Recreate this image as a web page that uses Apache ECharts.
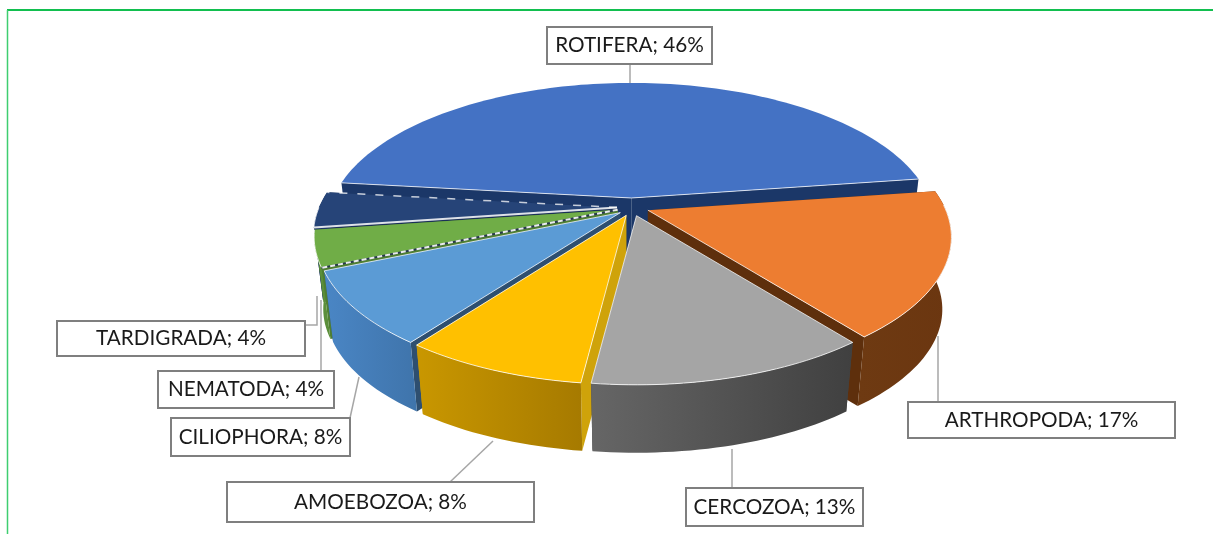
<!DOCTYPE html>
<html><head><meta charset="utf-8">
<style>html,body{margin:0;padding:0;background:#fff}#c{width:1213px;height:534px}</style>
<script src="https://cdn.jsdelivr.net/npm/echarts@6/dist/echarts.min.js"></script>
</head><body><div id="c"></div>
<script>
const categories = ['ROTIFERA','ARTHROPODA','CERCOZOA','AMOEBOZOA','CILIOPHORA','NEMATODA','TARDIGRADA'];
const shares = [46,17,13,8,8,4,4];
const topColors = ['#4472C4','#ED7D31','#A5A5A5','#FFC000','#5B9BD5','#70AD47','#264478'];
const faceColors = ['#1B3768','#5E2F0C','#444444','#CFA30A','#2E4F70','#4F7F32','#1A3058'];
const wallLeft = ['#2F5597','#6E3A12','#666666','#C99700','#4A86C5','#5B8F3A','#1F3864'];
const wallRight = ['#2F5597','#6B3610','#404040','#A67A00','#3F74AB','#5B8F3A','#1F3864'];
const drawOrder = [0,6,5,4,3,1,2];
const labelBoxes = [[547,27,165,37],[908,402,267,36],[686,488,177,38],[227,482,307,40],[171,418,179,38],[158,371,176,37],[57,321,248,35]];
const leaders = [
  [[630,64],[630,83]],
  [[938,336],[938,402]],
  [[732,449],[732,488]],
  [[493,441],[450,482]],
  [[359,377],[350,418]],
  [[321,300],[321,371]],
  [[305,325],[317,325],[317,296]]
];

const CX=632, CY=207, RX=298, RY=137, K=0.19, DEPTH=73, BOTTOM=0.97, START=-85.5;
const rad=d=>d*Math.PI/180;
const total=shares.reduce((a,b)=>a+b,0);
const spans=[]; let acc=START;
shares.forEach(s=>{const e=acc+s/total*360; spans.push([acc,e]); acc=e;});
function warp(t){return t+0.5-1.5*Math.cos(rad(2*(t-188)));}
function pt(t,o,dz){
  const a=rad(warp(t)), u=Math.sin(a), v=Math.cos(a), k=dz?BOTTOM:1, w=1+K*v;
  return [CX+o[0]+RX*k*u/w, CY+o[1]-RY*k*v/w+dz];
}
function arc(a,b,o,dz){const n=Math.max(6,Math.ceil(Math.abs(b-a)/1.5)),r=[];for(let i=0;i<=n;i++)r.push(pt(a+(b-a)*i/n,o,dz));return r;}

function renderSlice(params,api){
  const i=api.value(0), [a,b]=spans[i], mid=rad((a+b)/2), sm=Math.sin(mid);
  const o=[(sm>0?17:15)*sm,-9*Math.cos(mid)];
  const apex=[CX+o[0],CY+o[1]], apexB=[apex[0],apex[1]+DEPTH];
  const top=arc(a,b,o,0), bot=arc(a,b,o,DEPTH);
  const first=top[0], last=top[top.length-1];
  const kids=[];
  const poly=(points,fill)=>kids.push({type:'polygon',shape:{points},style:{fill}});
  const edge=(p,q,stroke,lineWidth,lineDash)=>kids.push({type:'polyline',shape:{points:[p,q]},style:{fill:'none',stroke,lineWidth,lineDash:lineDash||null}});
  poly([apex,first,bot[0],apexB],faceColors[i]);
  poly([apex,last,bot[bot.length-1],apexB],faceColors[i]);
  if(i!==0) poly(top.concat(bot.slice().reverse()),new echarts.graphic.LinearGradient(0,0,1,0,[{offset:0,color:wallLeft[i]},{offset:1,color:wallRight[i]}]));
  poly([apex].concat(top),topColors[i]);
  // pale rim on the front arc and the radial edges
  const lo=Math.max(a,86), hi=Math.min(b,268);
  if(hi>lo) kids.push({type:'polyline',shape:{points:arc(lo,hi,o,0)},style:{fill:'none',stroke:'rgba(255,255,255,0.8)',lineWidth:1}});
  const pale='rgba(255,255,255,0.75)';
  if(i===6){ edge(apex,last,pale,1.5,[8,10]); edge(apex,first,'rgba(255,255,255,0.85)',2); }
  else if(i===5){ edge(apex,first,'#27384F',2); edge(apex,first,'rgba(255,255,255,0.9)',2,[5,3]); }
  else { if(i!==1) edge(apex,first,pale,1); edge(apex,last,pale,1); }
  return {type:'group',children:kids};
}
function renderLabel(params,api){
  const i=api.value(0), [x,y,w,h]=labelBoxes[i];
  return {type:'group',children:[
    {type:'polyline',shape:{points:leaders[i]},style:{fill:'none',stroke:'#A6A6A6',lineWidth:1.5}},
    {type:'rect',shape:{x:x,y:y,width:w,height:h},style:{fill:'#fff',stroke:'#7F7F7F',lineWidth:2}},
    {type:'text',x:x+w/2,y:y+h/2,style:{text:categories[i]+'; '+shares[i]+'%',fill:'#1A1A1A',font:'20.7px Lato, "Open Sans", sans-serif',align:'center',verticalAlign:'middle'}}
  ]};
}
const chart=echarts.init(document.getElementById('c'),null,{renderer:'canvas'});
chart.setOption({
  animation:false,
  backgroundColor:'#fff',
  graphic:[
    {type:'line',shape:{x1:7,y1:10,x2:1213,y2:10},style:{stroke:'#12BF4F',lineWidth:2},z:0},
    {type:'line',shape:{x1:7.5,y1:10,x2:7.5,y2:534},style:{stroke:'#3FCE70',lineWidth:1.5},z:0}
  ],
  series:[
    {type:'custom',coordinateSystem:'none',silent:true,renderItem:renderSlice,data:drawOrder.map(i=>[i]),z:2},
    {type:'custom',coordinateSystem:'none',silent:true,renderItem:renderLabel,data:categories.map((c,i)=>[i]),z:3}
  ]
});
</script></body></html>
